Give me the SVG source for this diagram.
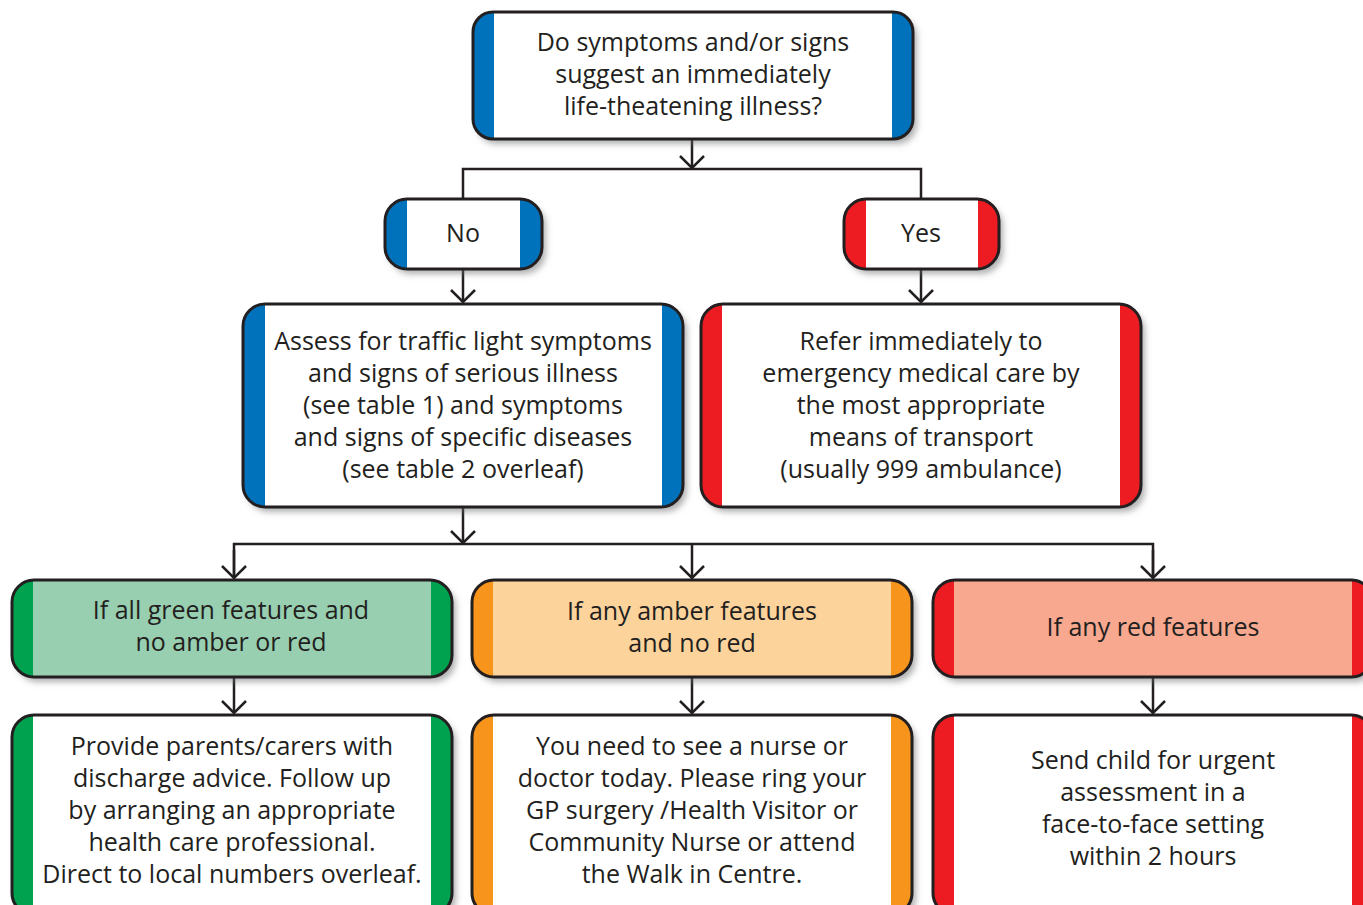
<svg xmlns="http://www.w3.org/2000/svg" width="1363" height="905" viewBox="0 0 1363 905">
<style>
text{font-family:"Open Sans","Noto Sans","Liberation Sans",sans-serif;font-size:25px;fill:#231f20;text-anchor:middle}
.bd{fill:none;stroke:#231f20;stroke-width:3}
.ln{fill:none;stroke:#231f20;stroke-width:2.5}
.blue{fill:#0072bc}.red{fill:#ed1c24}.green{fill:#00a14f}.amber{fill:#f7941d}
.w{fill:#ffffff}.lg{fill:#98cfb1}.la{fill:#fdd39c}.lr{fill:#f7a88f}
</style>
<defs>
<filter id="sh" x="-10%" y="-10%" width="125%" height="130%">
<feDropShadow dx="4" dy="5" stdDeviation="3" flood-color="#6d6e71" flood-opacity="0.55"/>
</filter>
<marker id="ar" viewBox="-15 -14 17 28" markerWidth="17" markerHeight="28" refX="0" refY="0" orient="auto" markerUnits="userSpaceOnUse">
<path d="M-12,-12 L0,0 L-12,12" fill="none" stroke="#231f20" stroke-width="2.5"/>
</marker>
</defs>

<g id="connectors">
<path class="ln" d="M692,139 V168" marker-end="url(#ar)"/>
<path class="ln" d="M463,199 V169 H921 V199"/>
<path class="ln" d="M463,269 V302" marker-end="url(#ar)"/>
<path class="ln" d="M921,269 V302" marker-end="url(#ar)"/>
<path class="ln" d="M463,507 V543" marker-end="url(#ar)"/>
<path class="ln" d="M234,578 V544 H1153 V578"/>
<path class="ln" d="M234,550 V578" marker-end="url(#ar)"/>
<path class="ln" d="M692,544 V578" marker-end="url(#ar)"/>
<path class="ln" d="M1153,550 V578" marker-end="url(#ar)"/>
<path class="ln" d="M234,677 V713" marker-end="url(#ar)"/>
<path class="ln" d="M692,677 V713" marker-end="url(#ar)"/>
<path class="ln" d="M1153,677 V713" marker-end="url(#ar)"/>
</g>

<g id="question">
<rect class="blue" x="473" y="12" width="440" height="127" rx="20" filter="url(#sh)"/>
<rect class="w" x="494" y="13" width="398" height="125"/>
<rect class="bd" x="473" y="12" width="440" height="127" rx="20"/>
<text x="693" y="51">Do symptoms and/or signs</text>
<text x="693" y="83">suggest an immediately</text>
<text x="693" y="115">life-theatening illness?</text>
</g>

<g id="no">
<rect class="blue" x="385" y="199" width="157" height="70" rx="22" filter="url(#sh)"/>
<rect class="w" x="407" y="200" width="113" height="68"/>
<rect class="bd" x="385" y="199" width="157" height="70" rx="22"/>
<text x="463" y="242">No</text>
</g>

<g id="yes">
<rect class="red" x="844" y="199" width="155" height="70" rx="22" filter="url(#sh)"/>
<rect class="w" x="866" y="200" width="112" height="68"/>
<rect class="bd" x="844" y="199" width="155" height="70" rx="22"/>
<text x="921" y="242">Yes</text>
</g>

<g id="assess">
<rect class="blue" x="243" y="304" width="440" height="203" rx="22" filter="url(#sh)"/>
<rect class="w" x="265" y="305" width="397" height="201"/>
<rect class="bd" x="243" y="304" width="440" height="203" rx="22"/>
<text x="463" y="350">Assess for traffic light symptoms</text>
<text x="463" y="382">and signs of serious illness</text>
<text x="463" y="414">(see table 1) and symptoms</text>
<text x="463" y="446">and signs of specific diseases</text>
<text x="463" y="478">(see table 2 overleaf)</text>
</g>

<g id="refer">
<rect class="red" x="701" y="304" width="440" height="203" rx="22" filter="url(#sh)"/>
<rect class="w" x="722" y="305" width="398" height="201"/>
<rect class="bd" x="701" y="304" width="440" height="203" rx="22"/>
<text x="921" y="350">Refer immediately to</text>
<text x="921" y="382">emergency medical care by</text>
<text x="921" y="414">the most appropriate</text>
<text x="921" y="446">means of transport</text>
<text x="921" y="478">(usually 999 ambulance)</text>
</g>

<g id="green-cond">
<rect class="green" x="12" y="580" width="440" height="97" rx="22" filter="url(#sh)"/>
<rect class="lg" x="33" y="581" width="398" height="95"/>
<rect class="bd" x="12" y="580" width="440" height="97" rx="22"/>
<text x="231" y="619">If all green features and</text>
<text x="231" y="651">no amber or red</text>
</g>

<g id="amber-cond">
<rect class="amber" x="472" y="580" width="440" height="97" rx="22" filter="url(#sh)"/>
<rect class="la" x="493" y="581" width="398" height="95"/>
<rect class="bd" x="472" y="580" width="440" height="97" rx="22"/>
<text x="692" y="620">If any amber features</text>
<text x="692" y="652">and no red</text>
</g>

<g id="red-cond">
<rect class="red" x="933" y="580" width="440" height="97" rx="22" filter="url(#sh)"/>
<rect class="lr" x="954" y="581" width="398" height="95"/>
<rect class="bd" x="933" y="580" width="440" height="97" rx="22"/>
<text x="1153" y="636">If any red features</text>
</g>

<g id="green-action">
<rect class="green" x="12" y="715" width="440" height="200" rx="22" filter="url(#sh)"/>
<rect class="w" x="33" y="716" width="398" height="198"/>
<rect class="bd" x="12" y="715" width="440" height="200" rx="22"/>
<text x="232" y="755">Provide parents/carers with</text>
<text x="232" y="787">discharge advice. Follow up</text>
<text x="232" y="819">by arranging an appropriate</text>
<text x="232" y="851">health care professional.</text>
<text x="232" y="883">Direct to local numbers overleaf.</text>
</g>

<g id="amber-action">
<rect class="amber" x="472" y="715" width="440" height="200" rx="22" filter="url(#sh)"/>
<rect class="w" x="493" y="716" width="398" height="198"/>
<rect class="bd" x="472" y="715" width="440" height="200" rx="22"/>
<text x="692" y="755">You need to see a nurse or</text>
<text x="692" y="787">doctor today. Please ring your</text>
<text x="692" y="819">GP surgery /Health Visitor or</text>
<text x="692" y="851">Community Nurse or attend</text>
<text x="692" y="883">the Walk in Centre.</text>
</g>

<g id="red-action">
<rect class="red" x="933" y="715" width="440" height="200" rx="22" filter="url(#sh)"/>
<rect class="w" x="954" y="716" width="398" height="198"/>
<rect class="bd" x="933" y="715" width="440" height="200" rx="22"/>
<text x="1153" y="769">Send child for urgent</text>
<text x="1153" y="801">assessment in a</text>
<text x="1153" y="833">face-to-face setting</text>
<text x="1153" y="865">within 2 hours</text>
</g>
</svg>
